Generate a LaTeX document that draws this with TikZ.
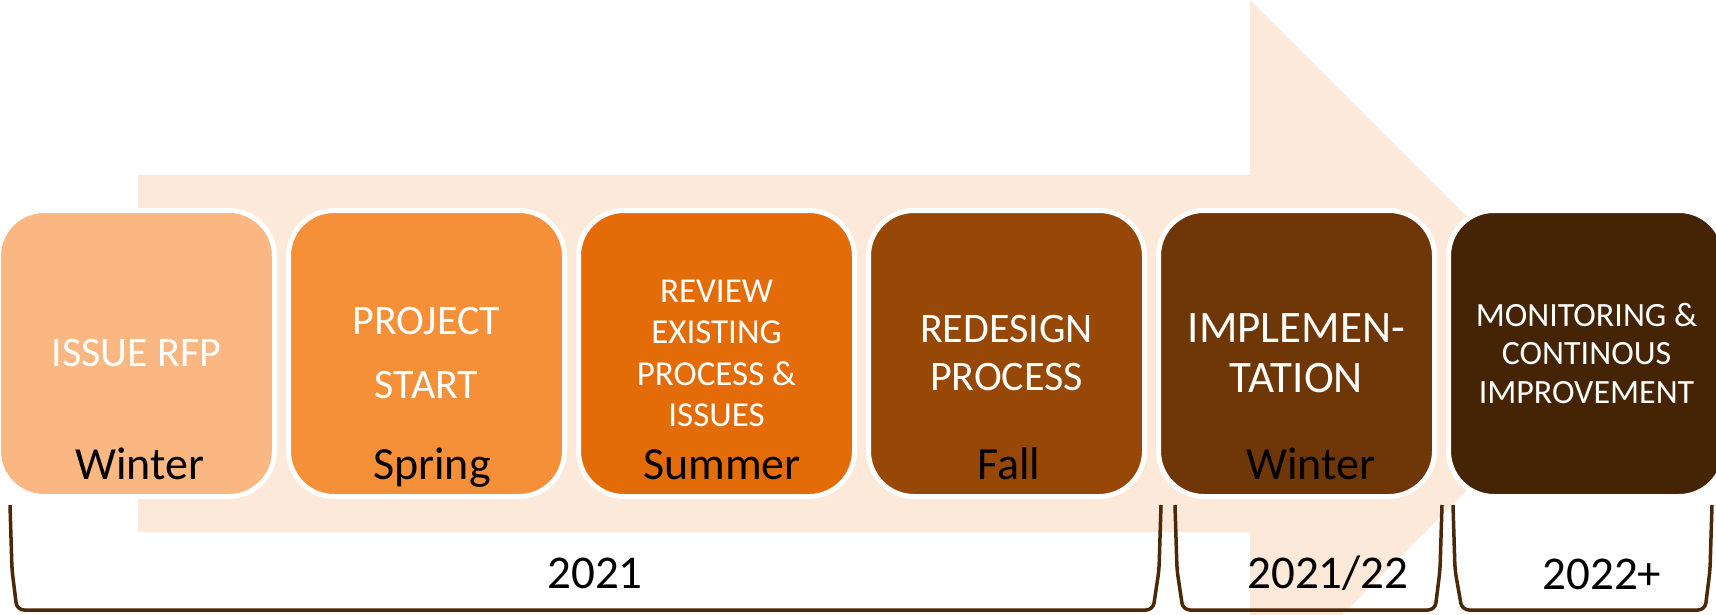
\documentclass[tikz,border=0pt]{standalone}
\usepackage{fontspec}
\setmainfont{Carlito}
\usepackage{tikz}
\definecolor{arrowpeach}{HTML}{FDE9D9}
\definecolor{boxa}{HTML}{FAB782}
\definecolor{boxb}{HTML}{F59038}
\definecolor{boxc}{HTML}{E36C09}
\definecolor{boxd}{HTML}{974806}
\definecolor{boxe}{HTML}{6F3608}
\definecolor{boxf}{HTML}{452305}
\definecolor{bracecol}{HTML}{4A2808}
\tikzstyle{stage}=[draw=white,%
                   line width    = 5pt,%
                   rectangle,%
                   rounded corners = 45.5pt,%
                   minimum width = 276pt,%
                   minimum height = 286pt,%
                   inner sep     = 0pt,%
                   outer sep     = 0pt,%
                   text          = white,%
                   align         = center,%
                   node distance = 290pt]
\tikzstyle{season}=[font=\fontsize{46}{55}\selectfont, anchor=base, text=black]
\tikzstyle{yearbrace}=[draw=bracecol, line width=3.5pt, rounded corners=7pt]
\tikzstyle{yearlabel}=[font=\fontsize{47}{56}\selectfont, anchor=base]
\begin{document}
\begin{tikzpicture}[x=1pt,y=-1pt]
            \useasboundingbox (0,0) rectangle (1716,615);
            \clip (0,0) rectangle (1716,615);
            % big arrow behind the stages
            \fill[arrowpeach] (138,175) -- (1250,175) -- (1250,0) -- (1603.5,353.5)
                -- (1250,707) -- (1250,532) -- (138,532) -- cycle;
            % stages
            \node[stage,fill=boxa,font=\fontsize{42}{50}\selectfont] (rfp) at (136.5,353.5) {ISSUE RFP};
            \node[stage,fill=boxb,font=\fontsize{42}{64}\selectfont][right of=rfp] (kickoff) {PROJECT\\START};
            \node[stage,fill=boxc,font=\fontsize{35}{41.5}\selectfont][right of=kickoff] (review) {REVIEW\\EXISTING\\PROCESS \&\\ISSUES};
            \node[stage,fill=boxd,font=\fontsize{42}{48}\selectfont][right of=review] (redesign) {REDESIGN\\PROCESS};
            \node[stage,fill=boxe,font=\fontsize{45}{50}\selectfont][right of=redesign] (impl) {IMPLEMEN-\\TATION};
            \node[stage,fill=boxf,font=\fontsize{34}{38.5}\selectfont][right of=impl] (monitor) {MONITORING \&\\CONTINOUS\\IMPROVEMENT};
            % seasons
            \node[season] (s1) at ([xshift=3.5pt,yshift=17.5pt]rfp.south) {Winter};
            \node[season] (s2) at ([xshift=5.5pt,yshift=17.5pt]kickoff.south) {Spring};
            \node[season] (s3) at ([xshift=5.5pt,yshift=17.5pt]review.south) {Summer};
            \node[season] (s4) at ([xshift=2.5pt,yshift=17.5pt]redesign.south) {Fall};
            \node[season] (s5) at ([xshift=14.5pt,yshift=17.5pt]impl.south) {Winter};
            % year brackets
            \draw[yearbrace] (10,505) -- (12,570) -- (17,610) -- (1153,610) -- (1159,570) -- (1161,505);
            \draw[yearbrace] (1175,505) -- (1177,570) -- (1183,610) -- (1435,610) -- (1440,570) -- (1442,505);
            \draw[yearbrace] (1453,505) -- (1455,570) -- (1462,610) -- (1705,610) -- (1710,570) -- (1712,505);
            \node[yearlabel] (y1) at (595,588) {2021};
            \node[yearlabel] (y2) at (1328,588) {2021/22};
            \node[yearlabel] (y3) at (1602,589) {2022+};
  \end{tikzpicture}
\end{document}
